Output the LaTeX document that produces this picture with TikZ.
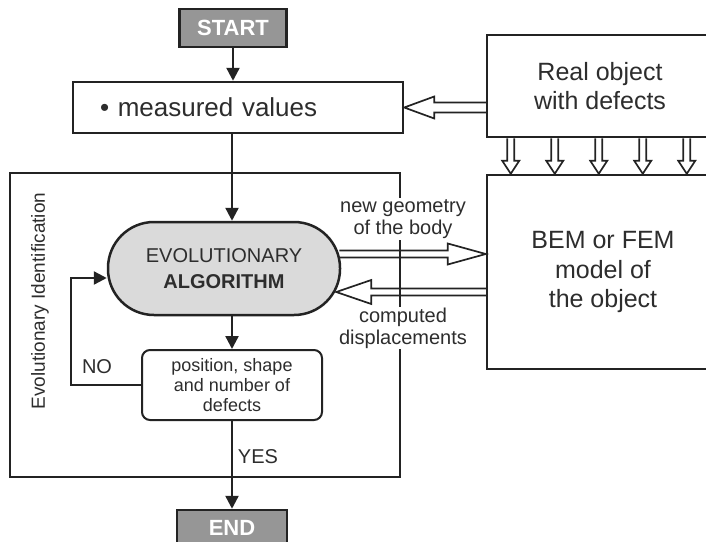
\documentclass[tikz,border=0pt]{standalone}
\usepackage{fontspec}
\setmainfont{Liberation Sans}
\usetikzlibrary{arrows.meta,calc}
\definecolor{white}{RGB}{255,255,255}
\definecolor{line_black}{RGB}{35,35,35}
\definecolor{text_gray}{RGB}{45,45,45}
\definecolor{box_gray}{RGB}{150,150,150}
\definecolor{light_gray}{RGB}{218,218,218}

\tikzset{
	box/.style={rectangle,draw=line_black,line width=2.5pt,fill=white,text=text_gray,align=center},
	term/.style={rectangle,draw=line_black,line width=2.5pt,fill=box_gray,text=white,font=\fontsize{22}{26}\selectfont\bfseries},
	arr/.style={line_black,line width=2.4pt,-{Triangle[length=13pt,width=13pt]}},
	hollow/.style={draw=line_black,line width=1.7pt},
	lbl/.style={text=text_gray,align=center,font=\fontsize{20}{22}\selectfont}
}

\begin{document}
\begin{tikzpicture}[x=1pt,y=-1pt]
	\useasboundingbox (0,0) rectangle (706,541);
	\clip (0,0) rectangle (706,541);

	\node[draw=line_black,line width=2.5pt,minimum width=390pt,minimum height=304pt] (frame) at (205,325) {};
	\node[lbl,rotate=90,font=\fontsize{19}{22}\selectfont] (evo) at (40,301) {Evolutionary Identification};
	\node[lbl,fill=white,inner sep=1pt] (geo) at (403,219) {new geometry\\of the body};
	\node[lbl,fill=white,inner sep=1pt] (disp) at (403,328) {computed\\displacements};

	\node[term,minimum width=107pt,minimum height=38pt] (start) at (233,28) {START};
	\node[box,minimum width=330pt,minimum height=51pt,text width=276pt,align=left,inner xsep=27pt,inner ysep=0pt,font=\fontsize{26}{30}\selectfont] (mv) at (238,107.5) {• measured values};
	\node[box,minimum width=226pt,minimum height=102pt,font=\fontsize{25}{29}\selectfont] (ro) at (600,86) {Real object\\with defects};
	\node[box,minimum width=232pt,minimum height=194pt,font=\fontsize{25}{29.5}\selectfont] (bem) at (603,272) {BEM or FEM\\model of\\the object};
	\node[box,fill=light_gray,rounded corners=46pt,minimum width=232pt,minimum height=93pt,font=\fontsize{20}{26}\selectfont] (ea) at (224,268.5) {EVOLUTIONARY\\\textbf{ALGORITHM}};
	\node[box,rounded corners=8pt,line width=2pt,minimum width=180pt,minimum height=70pt,font=\fontsize{18}{20}\selectfont] (dec) at (232,385) {position, shape\\and number of\\defects};
	\node[term,minimum width=110pt,minimum height=36pt] (end) at (232,528) {END};

	\node[lbl] (no) at (97,367) {NO};
	\node[lbl] (yes) at (258,457) {YES};

	\draw[arr] (start.south) -- (start.south |- mv.north);
	\draw[arr] (mv.south -| dec.north) -- (ea.north -| dec.north);
	\draw[arr] (ea.south -| dec.north) -- (dec.north);
	\draw[arr] (dec.south) -- (end.north);
	\draw[arr] (dec.west) -- ++(-70,0) |- ([yshift=-9.5pt]ea.west);

	\draw[hollow] let \p1=(mv.east), \p2=(ro.west) in
		(\x2,\y1+5pt) -- (\x1+30pt,\y1+5pt) -- (\x1+30pt,\y1+11pt) -- (\x1,\y1)
		-- (\x1+30pt,\y1-11pt) -- (\x1+30pt,\y1-5pt) -- (\x2,\y1-5pt);
	\foreach \i in {0,...,4}
		\draw[hollow] let \p1=([xshift=\i*44pt+25pt]ro.south west), \p2=(bem.north) in
			(\x1-3.5pt,\y1) -- (\x1-3.5pt,\y2+13pt) -- (\x1-8.5pt,\y2+13pt) -- (\x1,\y2)
			-- (\x1+8.5pt,\y2+13pt) -- (\x1+3.5pt,\y2+13pt) -- (\x1+3.5pt,\y1);
	\draw[hollow] let \p1=([xshift=-2pt,yshift=14.5pt]ea.east), \p2=(bem.west) in
		(\x1,\y1+3.5pt) -- (\x2-38pt,\y1+3.5pt) -- (\x2-38pt,\y1+10.5pt) -- (\x2,\y1)
		-- (\x2-38pt,\y1-10.5pt) -- (\x2-38pt,\y1-3.5pt) -- (\x1,\y1-3.5pt);
	\draw[hollow] let \p1=([xshift=-5pt,yshift=-23.5pt]ea.east), \p2=(bem.west) in
		(\x2,\y1+3.5pt) -- (\x1+35pt,\y1+3.5pt) -- (\x1+35pt,\y1+12pt) -- (\x1,\y1)
		-- (\x1+35pt,\y1-12pt) -- (\x1+35pt,\y1-3.5pt) -- (\x2,\y1-3.5pt);
\end{tikzpicture}
\end{document}
